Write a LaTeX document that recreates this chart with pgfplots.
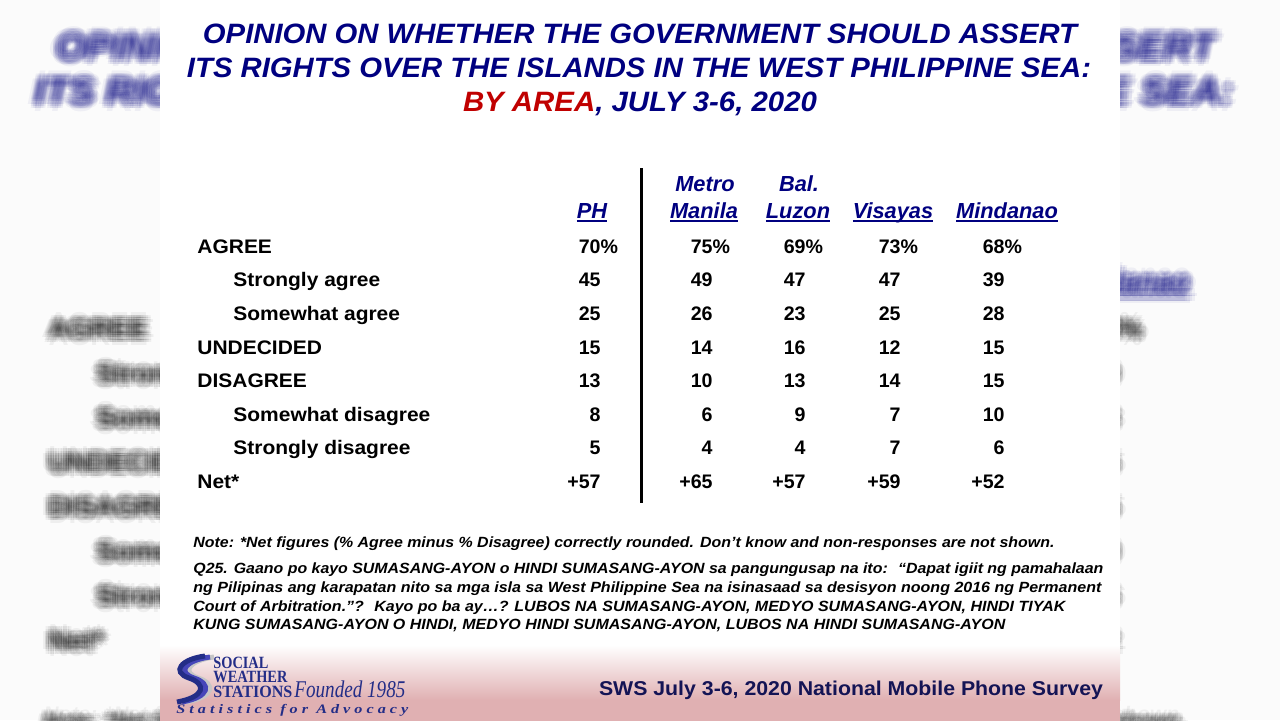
\documentclass[border=0pt]{standalone}
\usepackage{pgfplots}
\pgfplotsset{compat=1.18}
\usepackage{pgfplotstable}
\usepackage{graphicx}
\usepackage{fontspec}
\setmainfont{Liberation Sans}
\newfontfamily\timesf{Liberation Serif}
\newfontfamily\lsf[LetterSpace=25]{Liberation Serif}

\definecolor{navy}{RGB}{0,0,128}
\definecolor{titlered}{RGB}{192,0,0}
\definecolor{footnavy}{RGB}{20,20,85}
\definecolor{pinkc}{RGB}{224,176,178}
\definecolor{logoblue}{RGB}{35,45,135}

\newcommand\fsc{1}
\newlength\px \setlength\px{0.5pt}
\newcommand\fitw[2]{\resizebox{#1\px}{\height}{#2}}
\newsavebox\ulbox
\newcommand\ul[1]{\sbox\ulbox{#1}\rlap{\rule[-3.5\px]{\wd\ulbox}{2\px}}\usebox\ulbox}
\newcommand\titlef{\fontsize{\fpeval{14*\fsc}pt}{\fpeval{16*\fsc}pt}\selectfont\bfseries\itshape}
\newcommand\bodyf{\fontsize{\fpeval{9.8*\fsc}pt}{\fpeval{11*\fsc}pt}\selectfont\bfseries}
\newcommand\headf{\fontsize{\fpeval{10.9*\fsc}pt}{\fpeval{12*\fsc}pt}\selectfont\bfseries\itshape}
\newcommand\notef{\fontsize{\fpeval{7.4*\fsc}pt}{\fpeval{9*\fsc}pt}\selectfont\bfseries\itshape}

\pgfplotstableread[col sep=comma]{
y,PH,MM,BL,VI,MI
253.3,70\rlap{\%},75\rlap{\%},69\rlap{\%},73\rlap{\%},68\rlap{\%}
286.9,45,49,47,47,39
320.4,25,26,23,25,28
354.0,15,14,16,12,15
387.6,13,10,13,14,15
421.2,8,6,9,7,10
454.7,5,4,4,7,6
488.3,+57,+65,+57,+59,+52
}\vals

\pgfplotstableread[col sep=comma]{
x,y,label
197,253.3,AGREE
233,286.9,Strongly agree
233,320.4,Somewhat agree
197,354.0,UNDECIDED
197,387.6,DISAGREE
233,421.2,Somewhat disagree
233,454.7,Strongly disagree
197,488.3,Net*
}\rows

\newcommand\valplot[2]{\addplot[draw=none, mark=none, nodes near coords, point meta=explicit symbolic,
  nodes near coords style={anchor=base east, inner sep=0pt, text=black, font=\bodyf}]
  table[x expr=#1, y=y, meta=#2] {\vals};}

\newcommand\slidebody{%
  \node[anchor=base, inner sep=0pt, text=navy, font=\titlef] at (axis cs:640,43.5) {\fitw{874}{OPINION ON WHETHER THE GOVERNMENT SHOULD ASSERT}};
  \node[anchor=base, inner sep=0pt, text=navy, font=\titlef] at (axis cs:639,77) {\fitw{904}{ITS RIGHTS OVER THE ISLANDS IN THE WEST PHILIPPINE SEA:}};
  \node[anchor=base, inner sep=0pt, text=navy, font=\titlef] at (axis cs:640,111) {\fitw{354}{\textcolor{titlered}{BY AREA}, JULY 3-6, 2020}};
  \node[anchor=base, inner sep=0pt, text=navy, font=\headf] at (axis cs:592,218) {\ul{PH}};
  \node[anchor=base, inner sep=0pt, text=navy, font=\headf] at (axis cs:705,191) {Metro};
  \node[anchor=base, inner sep=0pt, text=navy, font=\headf] at (axis cs:704,218) {\ul{Manila}};
  \node[anchor=base, inner sep=0pt, text=navy, font=\headf] at (axis cs:799,191) {Bal.};
  \node[anchor=base, inner sep=0pt, text=navy, font=\headf] at (axis cs:798,218) {\ul{Luzon}};
  \node[anchor=base, inner sep=0pt, text=navy, font=\headf] at (axis cs:893,218) {\ul{Visayas}};
  \node[anchor=base, inner sep=0pt, text=navy, font=\headf] at (axis cs:1007,218) {\ul{Mindanao}};
  \addplot[draw=none, mark=none, nodes near coords={\scalebox{1.07}[1]{\pgfplotspointmeta}}, point meta=explicit symbolic,
    nodes near coords style={anchor=base west, inner sep=0pt, text=black, font=\bodyf}]
    table[x=x, y=y, meta=label] {\rows};
  \valplot{601}{PH}
  \valplot{713}{MM}
  \valplot{806}{BL}
  \valplot{901}{VI}
  \valplot{1005}{MI}
  \node[anchor=base west, inner sep=0pt, font=\notef] at (axis cs:193,547.5) {\fitw{861}{Note: *Net figures (\% Agree minus \% Disagree) correctly rounded. Don’t know and non-responses are not shown.}};
  \node[anchor=base west, inner sep=0pt, font=\notef] at (axis cs:193,573.5) {\fitw{910}{Q25. Gaano po kayo SUMASANG-AYON o HINDI SUMASANG-AYON sa pangungusap na ito: \ “Dapat igiit ng pamahalaan}};
  \node[anchor=base west, inner sep=0pt, font=\notef] at (axis cs:193,592.5) {\fitw{908}{ng Pilipinas ang karapatan nito sa mga isla sa West Philippine Sea na isinasaad sa desisyon noong 2016 ng Permanent}};
  \node[anchor=base west, inner sep=0pt, font=\notef] at (axis cs:193,611.5) {\fitw{872}{Court of Arbitration.”? \ Kayo po ba ay…? LUBOS NA SUMASANG-AYON, MEDYO SUMASANG-AYON, HINDI TIYAK}};
  \node[anchor=base west, inner sep=0pt, font=\notef] at (axis cs:193,629.5) {\fitw{812}{KUNG SUMASANG-AYON O HINDI, MEDYO HINDI SUMASANG-AYON, LUBOS NA HINDI SUMASANG-AYON}};
}

\pgfplotsset{
  slideaxis/.style={width=640pt, height=360pt, scale only axis, at={(0,0)}, anchor=south west,
    y dir=reverse, hide axis, clip=false},
  bgaxis/.style={slideaxis, xmin=160.6, xmax=1125.9, ymin=-1.5, ymax=541.5},
}
\newcommand\bgcopy[2]{\begin{scope}[opacity=0.05]
  \renewcommand\fsc{1.326}\setlength\px{0.663pt}%
  \begin{axis}[bgaxis, xshift=#1, yshift=#2]\slidebody\end{axis}\end{scope}}

\begin{document}
\begin{tikzpicture}
\path[use as bounding box, clip] (0,0) rectangle (640pt,360pt);
\fill[gray!3] (0,0) rectangle (640pt,360pt);
\foreach \i in {-3,...,3} {
  \foreach \j in {-3,...,3} {
    \pgfmathtruncatemacro\rr{\i*\i+\j*\j}
    \ifnum\rr<10 \bgcopy{\i*1.2pt}{\j*1.2pt}\fi
  }
}
\begin{axis}[slideaxis, xmin=0, xmax=1280, ymin=0, ymax=720]
  \fill[white] (axis cs:160,-20) rectangle (axis cs:1120,760);
  \shade[top color=white, bottom color=pinkc] (axis cs:160,645) rectangle (axis cs:1120,700);
  \fill[pinkc] (axis cs:160,699.5) rectangle (axis cs:1120,760);
  \slidebody
  \draw[line width=3\px] (axis cs:641,168) -- (axis cs:641,503);
  % footer
  \node[anchor=base, inner sep=0pt, text=footnavy, font=\fontsize{10pt}{12pt}\selectfont\bfseries] at (axis cs:851,695) {\fitw{504}{SWS July 3-6, 2020 National Mobile Phone Survey}};
  % logo
  \draw[line width=5\px, gray!45] (axis cs:214,657) .. controls (axis cs:190,660) and (axis cs:180,672) .. (axis cs:198,678) .. controls (axis cs:216,684) and (axis cs:214,697) .. (axis cs:186,702);
  \draw[line width=5\px, blue!45!gray] (axis cs:210,657) .. controls (axis cs:186,660) and (axis cs:176,672) .. (axis cs:194,678) .. controls (axis cs:212,684) and (axis cs:210,697) .. (axis cs:182,702);
  \draw[line width=5\px, logoblue] (axis cs:205,656) .. controls (axis cs:181,659) and (axis cs:171,672) .. (axis cs:189,678) .. controls (axis cs:207,684) and (axis cs:205,697) .. (axis cs:177,702);
  \node[anchor=base west, inner sep=0pt, text=logoblue, font=\timesf\bfseries\fontsize{8.6pt}{9pt}\selectfont] at (axis cs:213,668) {\fitw{55}{SOCIAL}};
  \node[anchor=base west, inner sep=0pt, text=logoblue, font=\timesf\bfseries\fontsize{8.6pt}{9pt}\selectfont] at (axis cs:213,682.5) {\fitw{74}{WEATHER}};
  \node[anchor=base west, inner sep=0pt, text=logoblue, font=\timesf\bfseries\fontsize{8.6pt}{9pt}\selectfont] at (axis cs:213,697) {\fitw{79}{STATIONS}};
  \node[anchor=base west, inner sep=0pt, text=logoblue, font=\timesf\itshape\fontsize{12pt}{13pt}\selectfont] at (axis cs:294,697) {\fitw{111}{Founded 1985}};
  \node[anchor=base west, inner sep=0pt, text=logoblue, font=\lsf\bfseries\itshape\fontsize{6.5pt}{7pt}\selectfont] at (axis cs:176,713) {\fitw{232}{Statistics for Advocacy}};
\end{axis}
\end{tikzpicture}
\end{document}
